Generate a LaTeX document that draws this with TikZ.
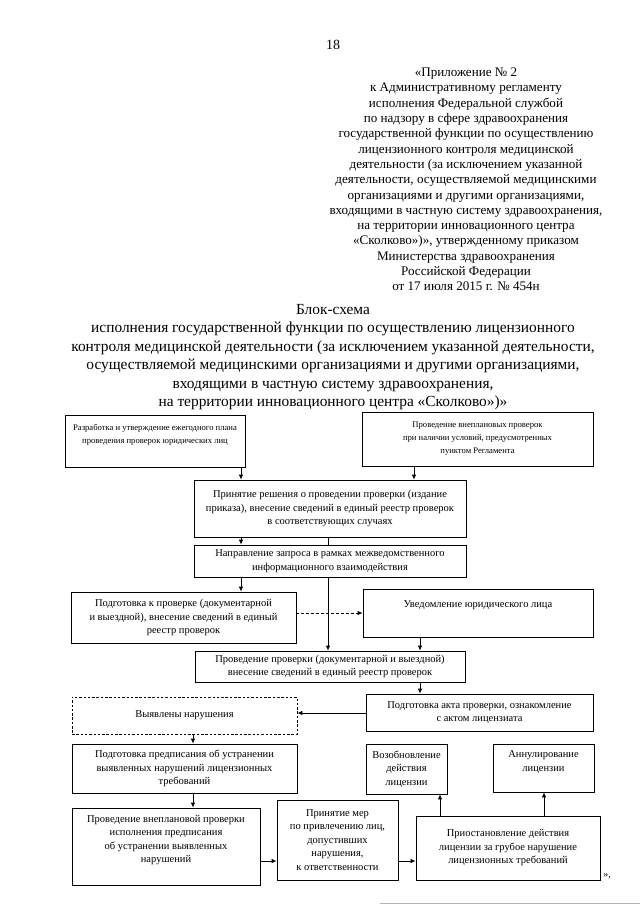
\documentclass[tikz,border=0pt]{standalone}
\usepackage{fontspec}
\setmainfont{Liberation Serif}
\usetikzlibrary{arrows.meta,calc}
\begin{document}
\begin{tikzpicture}[x=1pt,y=-1pt,
  box/.style={draw, line width=0.8pt, align=center, inner sep=1pt,
    font=\fontsize{10.5}{13.5}\selectfont},
  smallbox/.style={box, font=\fontsize{8.6}{13}\selectfont},
  dbox/.style={box, dash pattern=on 2.5pt off 1.8pt},
  arr/.style={-{Latex[length=5pt,width=4.5pt]}, line width=0.8pt},
  ln/.style={line width=0.8pt},
  hdr/.style={align=center, inner sep=0pt, font=\fontsize{13.1}{15.3}\selectfont},
  ttl/.style={align=center, inner sep=0pt, font=\fontsize{15.4}{18.4}\selectfont}]
\useasboundingbox (0,0) rectangle (640,905);
\fill[white] (0,0) rectangle (640,905);

\node[hdr, font=\fontsize{14}{16}\selectfont] (pg) at (333,45) {18};
\node[hdr] (head) at (466,179.5) {«Приложение № 2\\
к Административному регламенту\\
исполнения Федеральной службой\\
по надзору в сфере здравоохранения\\
государственной функции по осуществлению\\
лицензионного контроля медицинской\\
деятельности (за исключением указанной\\
деятельности, осуществляемой медицинскими\\
организациями и другими организациями,\\
входящими в частную систему здравоохранения,\\
на территории инновационного центра\\
«Сколково»)», утвержденному приказом\\
Министерства здравоохранения\\
Российской Федерации\\
от 17 июля 2015 г. № 454н};

\node[ttl] (title) at (333,357) {Блок-схема\\
исполнения государственной функции по осуществлению лицензионного\\
контроля медицинской деятельности (за исключением указанной деятельности,\\
осуществляемой медицинскими организациями и другими организациями,\\
входящими в частную систему здравоохранения,\\
на территории инновационного центра «Сколково»)»};

% boxes
\node[smallbox, minimum width=180pt, minimum height=52pt] (plan) at (155,441)
  {Разработка и утверждение ежегодного плана\\проведения проверок юридических лиц\\[2pt]};
\node[smallbox, minimum width=231pt, minimum height=54pt] (unpl) at (477.5,439)
  {Проведение внеплановых проверок\\при наличии условий, предусмотренных\\пунктом Регламента};
\node[box, minimum width=272pt, minimum height=57pt] (dec) at (330,508.5)
  {Принятие решения о проведении проверки (издание\\приказа), внесение сведений в единый реестр проверок\\в соответствующих случаях};
\node[box, minimum width=272pt, minimum height=32pt] (req) at (330,561)
  {Направление запроса в рамках межведомственного\\информационного взаимодействия};
\node[box, minimum width=225pt, minimum height=51pt] (prep) at (183.5,617.5)
  {Подготовка к проверке (документарной\\и выездной), внесение сведений в единый\\реестр проверок};
\node[box, minimum width=230pt, minimum height=48pt] (notif) at (478,613)
  {Уведомление юридического лица\\[4pt]};
\node[box, minimum width=270pt, minimum height=31pt] (cond) at (330,666.5)
  {Проведение проверки (документарной и выездной)\\внесение сведений в единый реестр проверок};
\node[box, minimum width=227pt, minimum height=37pt] (act) at (479.5,712.5)
  {Подготовка акта проверки, ознакомление\\с актом лицензиата};
\node[dbox, minimum width=225pt, minimum height=37pt] (viol) at (184.5,715.5)
  {Выявлены нарушения};
\node[box, minimum width=225pt, minimum height=49pt] (order) at (184.5,768.5)
  {Подготовка предписания об устранении\\выявленных нарушений лицензионных\\требований};
\node[box, minimum width=81pt, minimum height=50pt] (resume) at (406.5,769)
  {Возобновление\\действия\\лицензии};
\node[box, minimum width=101pt, minimum height=48pt] (annul) at (543.5,768)
  {Аннулирование\\лицензии\\\mbox{}};
\node[box, minimum width=188pt, minimum height=77pt] (recheck) at (166,846.5)
  {Проведение внеплановой проверки\\исполнения предписания\\об устранении выявленных\\нарушений\\[2pt]};
\node[box, minimum width=121pt, minimum height=80pt] (measures) at (337.5,840)
  {Принятие мер\\по привлечению лиц,\\допустивших\\нарушения,\\к ответственности};
\node[box, minimum width=184pt, minimum height=64pt] (susp) at (508,848)
  {Приостановление действия\\лицензии за грубое нарушение\\лицензионных требований};

% helper coordinates
\coordinate (xa) at (241,0);
\coordinate (xb) at (414,0);
\coordinate (xc) at (328,0);
\coordinate (xd) at (420,0);
\coordinate (xf) at (193,0);
\coordinate (xg) at (440,0);
\coordinate (xh) at (544,0);
\coordinate (ya) at (0,613);
\coordinate (yb) at (0,713);
\coordinate (yc) at (0,861);

% connectors
\draw[arr] (plan.south -| xa) -- (dec.north -| xa);
\draw[arr] (unpl.south -| xb) -- (dec.north -| xb);
\draw[arr] (dec.south -| xa) -- (req.north -| xa);
\draw[ln] (dec.south -| xc) -- (req.north -| xc);
\draw[arr] (req.south -| xc) -- (cond.north -| xc);
\draw[arr] (req.south -| xa) -- (prep.north -| xa);
\draw[arr, dash pattern=on 3pt off 2pt] (prep.east |- ya) -- (notif.west |- ya);
\draw[arr] (notif.south -| xd) -- (cond.north -| xd);
\draw[arr] (cond.south -| xd) -- (act.north -| xd);
\draw[arr] (act.west |- yb) -- (viol.east |- yb);
\draw[arr] (viol.south -| xf) -- (order.north -| xf);
\draw[arr] (order.south -| xf) -- (recheck.north -| xf);
\draw[arr] (recheck.east |- yc) -- (measures.west |- yc);
\draw[arr] (measures.east |- yc) -- (susp.west |- yc);
\draw[arr] (susp.north -| xg) -- (resume.south -| xg);
\draw[arr] (susp.north -| xh) -- (annul.south -| xh);

\node[font=\fontsize{10}{12}\selectfont, inner sep=0pt] (endq) at (607,876) {»,};
\draw[gray!60, line width=0.6pt] (380,903) -- (640,903);
\end{tikzpicture}
\end{document}
